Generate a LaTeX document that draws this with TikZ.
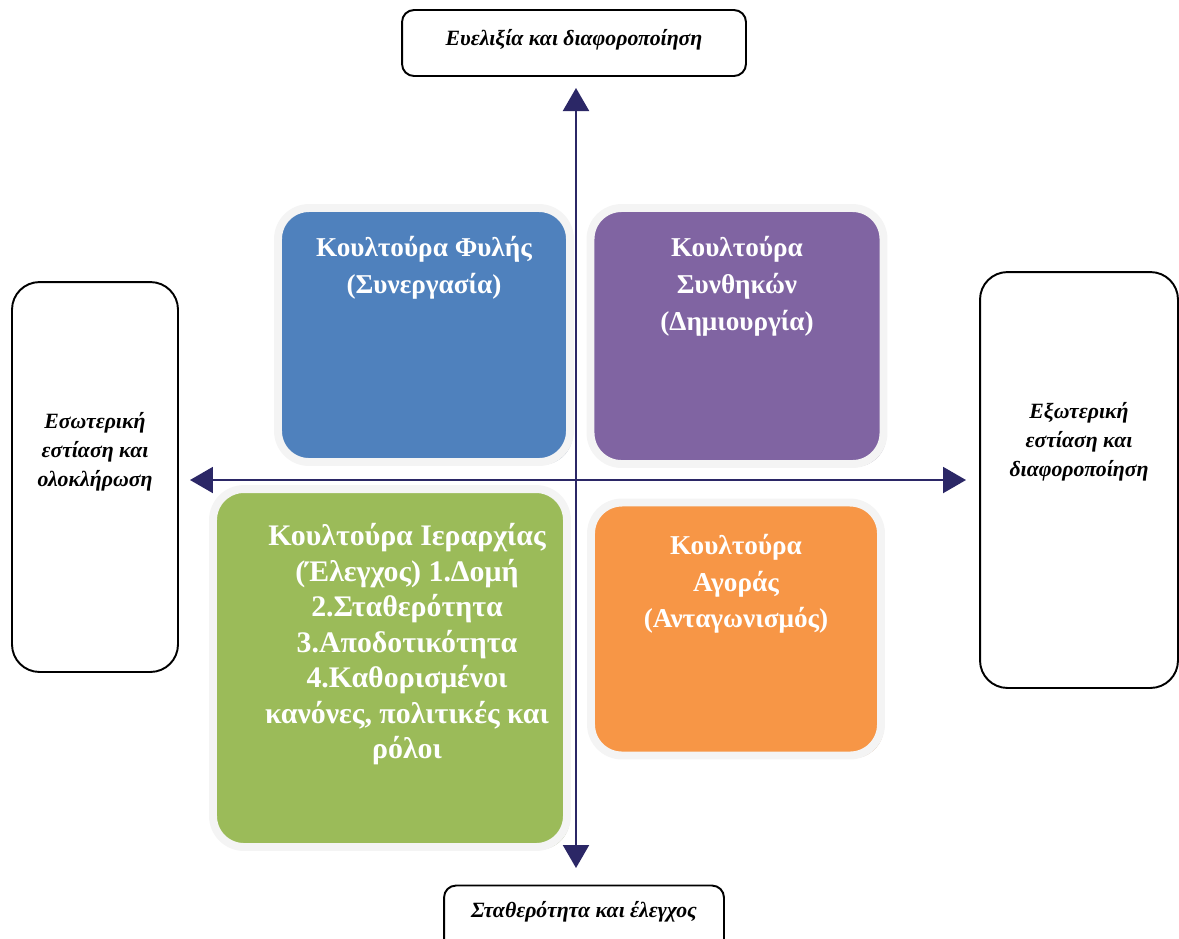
\documentclass[tikz,border=0pt]{standalone}
\usepackage{fontspec}
\setmainfont{Liberation Serif}
\usetikzlibrary{arrows.meta,shadows}

\definecolor{clanblue}{HTML}{4F81BD}
\definecolor{adhocpurple}{HTML}{8064A2}
\definecolor{hierarchygreen}{HTML}{9BBB59}
\definecolor{marketorange}{HTML}{F79646}
\definecolor{axisnavy}{HTML}{2B2766}

\tikzset{
	culturebox/.style={rectangle, rounded corners=0.62cm, draw=gray!9, line width=4.5pt,
		drop shadow={shadow xshift=1.6pt, shadow yshift=-1.6pt, fill=#1!65!black, opacity=0.55},
		fill=#1},
	culturetext/.style={text=white, font=\bfseries\fontsize{15.5}{21}\selectfont, align=center, inner sep=0pt, anchor=north},
	dimbox/.style={rectangle, draw=black, line width=1.1pt, fill=white},
	dimtext/.style={font=\bfseries\itshape\fontsize{12.4}{16.5}\selectfont, align=center, inner sep=0pt},
	axisline/.style={draw=axisnavy, line width=1.2pt, {Triangle[length=0.46cm, width=0.52cm]}-{Triangle[length=0.46cm, width=0.52cm]}}
}

\begin{document}
\begin{tikzpicture}[x=0.02cm, y=-0.02cm]
	\clip (0, 0) rectangle (1179, 938);
	\fill[white] (0, 0) rectangle (1179, 938);

	% Dimension boxes:
	\node[dimbox, rounded corners=0.24cm, minimum width=6.88cm, minimum height=1.32cm] (flexbox) at (574, 43) {};
	\node[dimtext] (flextxt) at (574, 40) {Ευελιξία και διαφοροποίηση};
	\node[dimbox, rounded corners=0.24cm, minimum width=5.6cm, minimum height=1.5cm] (stabbox) at (584, 923) {};
	\node[dimtext] (stabtxt) at (584, 912) {Σταθερότητα και έλεγχος};
	\node[dimbox, rounded corners=0.55cm, minimum width=3.32cm, minimum height=7.8cm] (internbox) at (95, 477) {};
	\node[dimtext] (interntxt) at (95, 452) {Εσωτερική\\εστίαση και\\ολοκλήρωση};
	\node[dimbox, rounded corners=0.55cm, minimum width=3.96cm, minimum height=8.32cm] (externbox) at (1079, 480) {};
	\node[dimtext] (externtxt) at (1079, 442) {Εξωτερική\\εστίαση και\\διαφοροποίηση};

	% Axes:
	\coordinate (northtip) at (576, 88);
	\coordinate (southtip) at (576, 868);
	\coordinate (westtip) at (190, 480);
	\coordinate (easttip) at (966, 480);
	\draw[axisline] (southtip) -- (northtip);
	\draw[axisline] (westtip) -- (easttip);

	% Culture quadrants:
	\node[culturebox=clanblue, minimum width=5.84cm, minimum height=5.08cm] (clanbox) at (424, 335) {};
	\node[culturetext] (clantxt) at ([yshift=-0.64cm]clanbox.north) {Κουλτούρα Φυλής\\(Συνεργασία)};
	\node[culturebox=adhocpurple, minimum width=5.86cm, minimum height=5.12cm] (adhocbox) at (737, 336) {};
	\node[culturetext] (adhoctxt) at ([yshift=-0.64cm]adhocbox.north) {Κουλτούρα\\Συνθηκών\\(Δημιουργία)};
	\node[culturebox=hierarchygreen, minimum width=7.08cm, minimum height=7.16cm] (hierbox) at (390, 668) {};
	\node[culturetext, font=\bfseries\fontsize{17}{20.2}\selectfont] (hiertxt) at ([xshift=0.34cm, yshift=-0.76cm]hierbox.north) {Κουλτούρα Ιεραρχίας\\(Έλεγχος) 1.Δομή\\2.Σταθερότητα\\3.Αποδοτικότητα\\4.Καθορισμένοι\\κανόνες, πολιτικές και\\ρόλοι};
	\node[culturebox=marketorange, minimum width=5.8cm, minimum height=5.06cm] (marketbox) at (736, 629) {};
	\node[culturetext] (markettxt) at ([yshift=-0.7cm]marketbox.north) {Κουλτούρα\\Αγοράς\\(Ανταγωνισμός)};
\end{tikzpicture}
\end{document}
